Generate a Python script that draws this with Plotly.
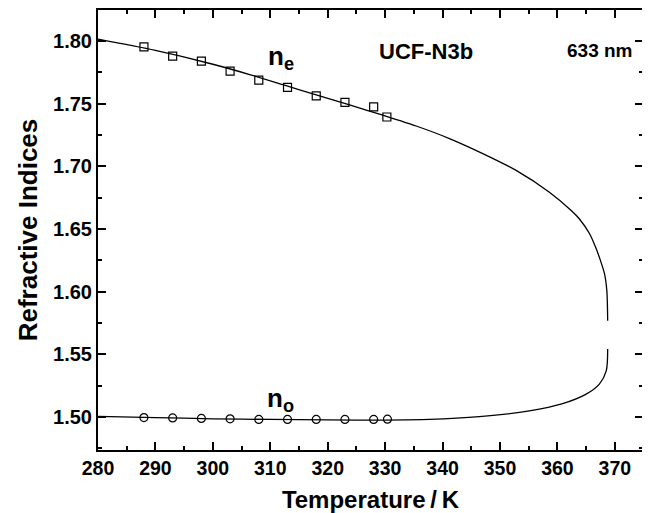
import plotly.graph_objects as go

ne_T = [288, 293, 298, 303, 308, 313, 318, 323, 328, 330.3]
ne_n = [1.7954, 1.7880, 1.7840, 1.7760, 1.7688, 1.7630, 1.7562, 1.7510, 1.7474, 1.7394]
no_T = [288, 293, 298, 303, 308, 313, 318, 323, 328, 330.4]
no_n = [1.4995, 1.4992, 1.4988, 1.4985, 1.4980, 1.4980, 1.4980, 1.4980, 1.4980, 1.4982]

# Fit curves
ne_fit_T = [280, 290, 300, 306.4, 312.2, 318, 323.8, 329.6, 335.4, 341.2, 347.0, 352.8, 358.6, 362.4,
            363.8, 365.6, 366.6, 367.3, 368.2, 368.6, 368.75]
ne_fit_n = [1.8015, 1.7925, 1.7815, 1.7733, 1.7652, 1.7570, 1.7490, 1.7408, 1.7322, 1.7222, 1.7102, 1.6968,
            1.6794, 1.6648, 1.6582, 1.6462, 1.6360, 1.6274, 1.6142, 1.6008, 1.5768]
no_fit_T = [280, 290, 300, 310, 320, 330, 337.7, 346.4, 355.1, 360.9, 365.0, 367.3, 368.5, 368.75]
no_fit_n = [1.5005, 1.4995, 1.4985, 1.4980, 1.4976, 1.4975, 1.4980, 1.5002, 1.5048, 1.5106, 1.5182, 1.5262,
            1.5368, 1.5542]

FONT = "Liberation Sans, Arial, sans-serif"

fig = go.Figure()
fig.add_trace(go.Scatter(x=ne_fit_T, y=ne_fit_n, mode="lines",
                         line=dict(color="black", width=1.3, shape="spline", smoothing=0.8),
                         showlegend=False, hoverinfo="skip"))
fig.add_trace(go.Scatter(x=no_fit_T, y=no_fit_n, mode="lines",
                         line=dict(color="black", width=1.3, shape="spline", smoothing=0.8),
                         showlegend=False, hoverinfo="skip"))
fig.add_trace(go.Scatter(x=ne_T, y=ne_n, mode="markers",
                         marker=dict(symbol="square-open", size=8, color="black", line=dict(width=1.2)),
                         showlegend=False))
fig.add_trace(go.Scatter(x=no_T, y=no_n, mode="markers",
                         marker=dict(symbol="circle-open", size=8, color="black", line=dict(width=1.2)),
                         showlegend=False))

axis_common = dict(
    showline=True, linecolor="black", linewidth=2, mirror="allticks",
    ticks="inside", ticklen=8, tickwidth=2, tickcolor="black",
    showgrid=False, zeroline=False, automargin=False,
    minor=dict(ticks="inside", ticklen=4, tickwidth=2, tickcolor="black", showgrid=False),
)

fig.update_xaxes(range=[280, 374.9], tick0=280, dtick=10, minor_dtick=5,
                 tickfont=dict(family=FONT, size=19.5, color="black", weight="bold"),
                 title=dict(text="Temperature\u2009/\u2009K",
                            font=dict(family=FONT, size=24, color="black", weight="bold"), standoff=16),
                 **axis_common)
fig.update_yaxes(range=[1.4736, 1.8248], tick0=1.5, dtick=0.05, minor_dtick=0.025, tickformat=".2f",
                 tickfont=dict(family=FONT, size=20, color="black", weight="bold"),
                 title=dict(text="Refractive Indices",
                            font=dict(family=FONT, size=26, color="black", weight="bold"), standoff=8),
                 **axis_common)

ann_font = dict(family=FONT, color="black", weight="bold")
fig.add_annotation(x=309.3, y=1.7870, xref="x", yref="y", text="n<sub>e</sub>", showarrow=False,
                   xanchor="left", yanchor="middle", font=dict(size=26, **ann_font))
fig.add_annotation(x=309.0, y=1.5140, xref="x", yref="y", text="n<sub>o</sub>", showarrow=False,
                   xanchor="left", yanchor="middle", font=dict(size=26, **ann_font))
fig.add_annotation(x=337.2, y=1.7914, xref="x", yref="y", text="UCF-N3b", showarrow=False,
                   xanchor="center", yanchor="middle", font=dict(size=22, **ann_font))
fig.add_annotation(x=367.3, y=1.7922, xref="x", yref="y", text="633 nm", showarrow=False,
                   xanchor="center", yanchor="middle", font=dict(size=19, **ann_font))

# page body adds an 8 px offset; size the figure so the plot lands where the reference has it
fig.update_layout(width=642, height=505, margin=dict(l=90, r=7, t=2, b=63),
                  plot_bgcolor="white", paper_bgcolor="white")

fig.write_html("out.html")
